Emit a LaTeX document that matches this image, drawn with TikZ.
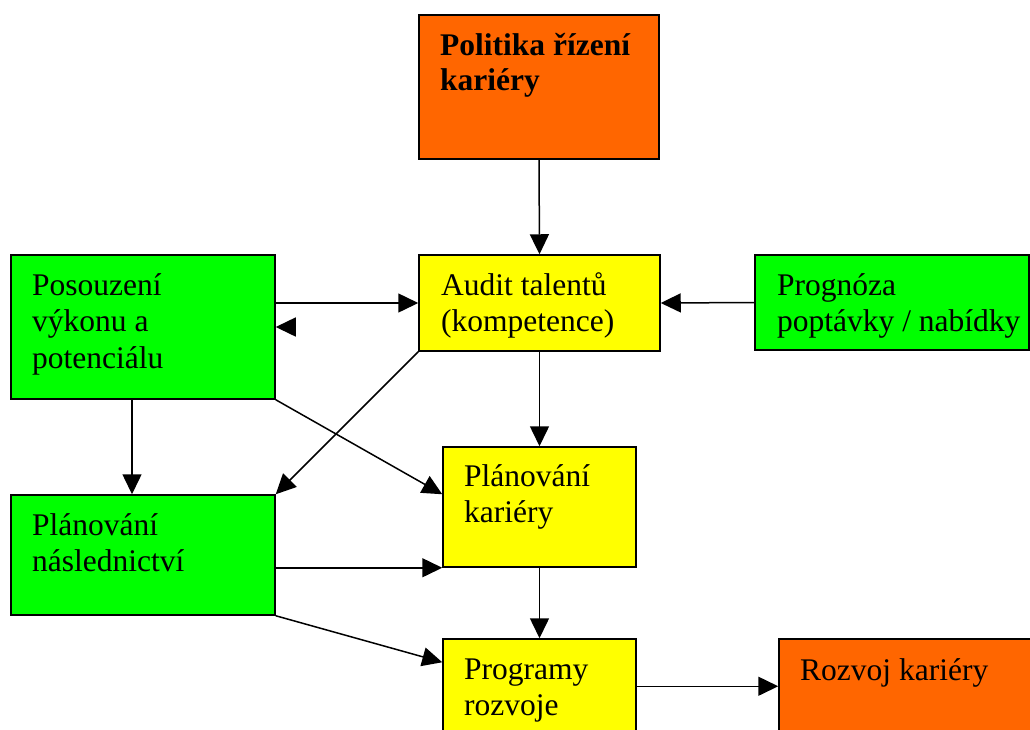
\documentclass[tikz,border=0pt]{standalone}
\usepackage{fontspec}
\setmainfont{Liberation Serif}
\usetikzlibrary{arrows.meta}
\definecolor{boxorange}{HTML}{FF6600}
\definecolor{boxyellow}{HTML}{FFFF00}
\definecolor{boxgreen}{HTML}{00FF00}
\tikzset{
  box/.style={draw=black, line width=1.5pt, inner sep=0pt, rectangle},
  txt/.style={anchor=base west, inner sep=0pt, font=\fontsize{31.5}{36.5}\selectfont},
  btxt/.style={anchor=base west, inner sep=0pt, font=\fontsize{31.5}{35}\selectfont\bfseries},
  conn/.style={line width=1.5pt, -{Triangle[length=20pt,width=19pt]}}
}
\begin{document}
\begin{tikzpicture}[x=1pt,y=-1pt]
\useasboundingbox (0,0) rectangle (1030,729);
\fill[white] (0,0) rectangle (1030,729);
\clip (0,0) rectangle (1030,729);
% boxes
\node[box, fill=boxorange, minimum width=240pt, minimum height=144pt] (pol) at (539,87) {};
\node[box, fill=boxyellow, minimum width=241pt, minimum height=96pt] (aud) at (539.5,303) {};
\node[box, fill=boxgreen, minimum width=264pt, minimum height=144pt] (pos) at (143,327) {};
\node[box, fill=boxgreen, minimum width=274pt, minimum height=95pt] (prog) at (892,302.5) {};
\node[box, fill=boxyellow, minimum width=193pt, minimum height=120pt] (plk) at (539.5,507) {};
\node[box, fill=boxgreen, minimum width=264pt, minimum height=120pt] (pln) at (143,555) {};
\node[box, fill=boxyellow, minimum width=193pt, minimum height=121pt] (pgr) at (539.5,699.5) {};
\node[box, fill=boxorange, minimum width=281pt, minimum height=121pt] (roz) at (919.5,699.5) {};
% texts
\node[btxt] (polt) at (440,55) {\begin{tabular}[t]{@{}l@{}}Politika řízení\\kariéry\end{tabular}};
\node[txt] (audt) at (441,295) {\begin{tabular}[t]{@{}l@{}}Audit talentů\\(kompetence)\end{tabular}};
\node[txt] (post) at (32,295) {\begin{tabular}[t]{@{}l@{}}Posouzení\\výkonu a\\potenciálu\end{tabular}};
\node[txt] (progt) at (777,295) {\begin{tabular}[t]{@{}l@{}}Prognóza\\poptávky / nabídky\end{tabular}};
\node[txt] (plkt) at (464,486) {\begin{tabular}[t]{@{}l@{}}Plánování\\kariéry\end{tabular}};
\node[txt] (plnt) at (32,535) {\begin{tabular}[t]{@{}l@{}}Plánování\\následnictví\end{tabular}};
\node[txt] (pgrt) at (464,679) {\begin{tabular}[t]{@{}l@{}}Programy\\rozvoje\end{tabular}};
\node[txt] (rozt) at (800,680) {Rozvoj kariéry};
% connectors
\draw[conn] (pol.south) -- (aud.north);
\draw[conn] (pos.east |- aud.west) -- (aud.west);
\draw[conn] ([xshift=20pt]pos.east) -- (pos.east);
\draw[conn] (prog.west) -- (aud.east);
\draw[conn] (aud.south) -- (plk.north);
\draw[conn] (aud.south west) -- (pln.north east);
\draw[conn] (pos.south east) -- (plk.west |- pln.north east);
\draw[conn] ([xshift=-11pt]pos.south) -- ([xshift=-11pt]pln.north);
\draw[conn] (pln.east |- plk.south west) -- (plk.south west);
\draw[conn] (pln.south east) -- ([yshift=-24pt]pgr.north west);
\draw[conn] (plk.south) -- (pgr.north);
\draw[conn] ([yshift=-48pt]pgr.north east) -- ([yshift=-48pt]roz.north west);
\end{tikzpicture}
\end{document}
